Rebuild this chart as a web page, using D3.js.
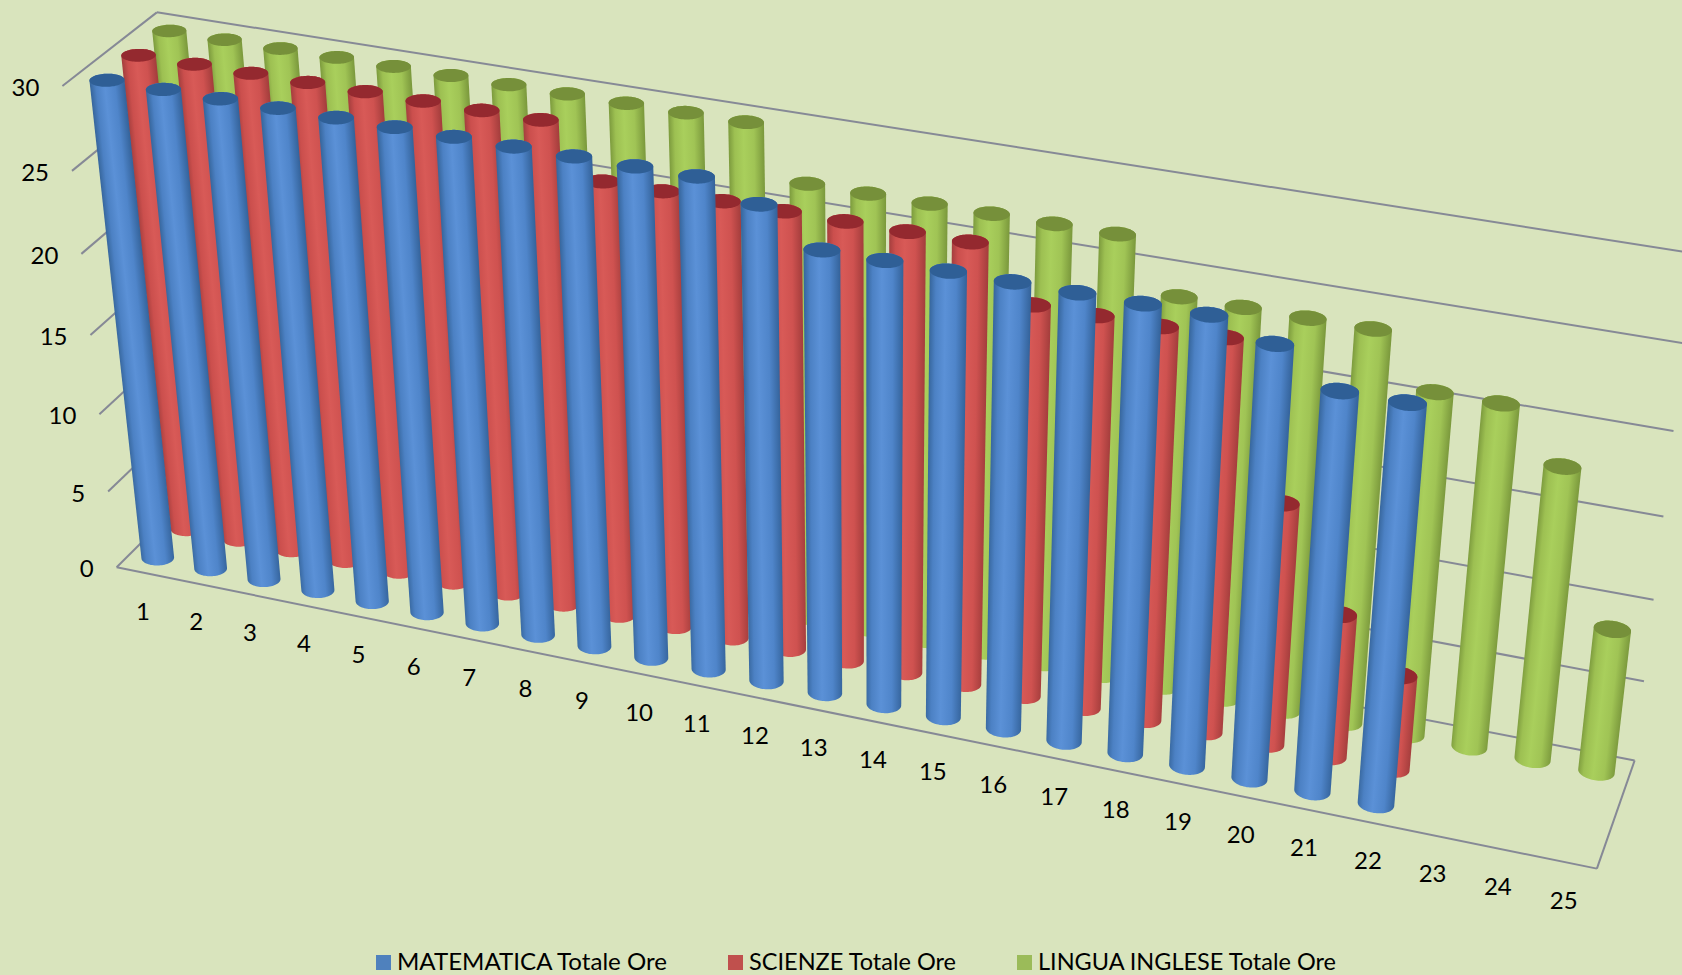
<!DOCTYPE html>
<html>
	<head>
		<title>Totale Ore</title>

		<!--libs-->
		<script src="https://d3js.org/d3.v7.min.js"></script>

		<!--css-->
		<style>
			html, body {
				margin: 0;
				padding: 0;
				background: #d9e4bd;
				overflow: hidden;
			}

			svg {
				display: block;
			}

			text {
				font-family: Lato, "Open Sans", sans-serif;
				font-size: 24px;
				fill: #000;
			}

			.legend text {
				font-size: 23px;
			}

			.grid line {
				stroke: #868996;
				stroke-width: 2;
			}
		</style>
	</head>
	<body>
		<div id="chart"></div>

		<!--js-->
		<script>
			var categories = d3.range(1, 26).map(String);
			var valueTicks = [0, 5, 10, 15, 20, 25, 30];
			var seriesNames = ["MATEMATICA Totale Ore", "SCIENZE Totale Ore", "LINGUA INGLESE Totale Ore"];

			var matematica = [30, 30, 30, 30, 30, 30, 30, 30, 30, 30, 30, 29, 27, 27, 27, 27, 27, 27, 27, 26, 24, 24];
			var scienze = [30, 30, 30, 30, 30, 30, 30, 30, 27, 27, 27, 27, 27, 27, 27, 24, 24, 24, 24, 15, 9, 6];
			var inglese = [30, 30, 30, 30, 30, 30, 30, 30, 30, 30, 30, 27, 27, 27, 27, 27, 27, 24, 24, 24, 24, 21, 21, 18, 9];

			var seriesValues = [matematica, scienze, inglese];
			var bodyColors = [
				["#38689f", "#4c81c4", "#5b91d7", "#4f85ca", "#35649c"],
				["#a8403f", "#cb4f4d", "#d85a57", "#cf5250", "#a53e3d"],
				["#7f9e3f", "#9dc052", "#a9cf5c", "#a0c455", "#7c9a3d"]
			];
			var capColors = ["#2f5f96", "#94292f", "#76903a"];
			var legendColors = ["#4f81bd", "#c0504d", "#9bbb59"];

			var width = 1682, height = 975;

			// the chart box runs 0..1 on each side: u along categories, d in depth, v up
			var uScale = d3.scaleBand().domain(categories).range([0, 1]);
			var dScale = d3.scaleBand().domain(seriesNames).range([0, 1]);
			var vScale = d3.scaleLinear().domain([0, 30]).range([0, 1]);

			// where the box sits on the picture, fitted below to a perspective camera
			var anchors = [
				[0, 0, 0, 117, 568], [1, 0, 0, 1597, 869], [1, 1, 0, 1635, 762],
				[0, 0, 1 / 6, 108, 492], [0, 0, 2 / 6, 99, 414], [0, 0, 3 / 6, 90, 335],
				[0, 0, 4 / 6, 81, 254], [0, 0, 5 / 6, 72, 171], [0, 0, 1, 63, 86],
				[0, 1, 1, 157, 12], [1, 1, 1, 1695, 253],
				[1, 1, 1 / 6, 1644, 682], [1, 1, 2 / 6, 1653, 600], [1, 1, 3 / 6, 1663, 517], [1, 1, 4 / 6, 1673, 431],
				[0.02, 1 / 6, 0, 158, 557], [0.86, 1 / 6, 0, 1376, 803],
				[0.98, 5 / 6, 0, 1597, 771], [0.90, 5 / 6, 0, 1469, 745]
			];

			function solve(A, b) {
				var n = b.length;
				for (var i = 0; i < n; i++) {
					var p = i;
					for (var r = i + 1; r < n; r++) if (Math.abs(A[r][i]) > Math.abs(A[p][i])) p = r;
					var t = A[i]; A[i] = A[p]; A[p] = t;
					t = b[i]; b[i] = b[p]; b[p] = t;
					for (r = i + 1; r < n; r++) {
						var f = A[r][i] / A[i][i];
						for (var c = i; c < n; c++) A[r][c] -= f * A[i][c];
						b[r] -= f * b[i];
					}
				}
				var out = [];
				for (i = n - 1; i >= 0; i--) {
					var s = b[i];
					for (c = i + 1; c < n; c++) s -= A[i][c] * out[c];
					out[i] = s / A[i][i];
				}
				return out;
			}

			function fitCamera() {
				var AtA = d3.range(11).map(function() { return d3.range(11).map(function() { return 0; }); });
				var Atb = d3.range(11).map(function() { return 0; });
				function add(row, y) {
					for (var i = 0; i < 11; i++) {
						Atb[i] += row[i] * y;
						for (var j = 0; j < 11; j++) AtA[i][j] += row[i] * row[j];
					}
				}
				anchors.forEach(function(a) {
					add([1, a[0], a[1], a[2], 0, 0, 0, 0, -a[3] * a[0], -a[3] * a[1], -a[3] * a[2]], a[3]);
					add([0, 0, 0, 0, 1, a[0], a[1], a[2], -a[4] * a[0], -a[4] * a[1], -a[4] * a[2]], a[4]);
				});
				return solve(AtA, Atb);
			}

			var cam = fitCamera();

			function project(u, d, v) {
				var w = 1 + cam[8] * u + cam[9] * d + cam[10] * v;
				return [
					(cam[0] + cam[1] * u + cam[2] * d + cam[3] * v) / w,
					(cam[4] + cam[5] * u + cam[6] * d + cam[7] * v) / w
				];
			}

			var svg = d3.select("#chart")
				.append("svg")
				.attr("width", width)
				.attr("height", height);

			var defs = svg.append("defs");

			// gridlines: left wall then back wall
			var grid = svg.append("g").attr("class", "grid");
			valueTicks.forEach(function(t) {
				var v = vScale(t);
				var pts = [project(0, 0, v), project(0, 1, v), project(1, 1, v)];
				grid.append("line").attr("x1", pts[0][0]).attr("y1", pts[0][1]).attr("x2", pts[1][0]).attr("y2", pts[1][1]);
				grid.append("line").attr("x1", pts[1][0]).attr("y1", pts[1][1]).attr("x2", pts[2][0]).attr("y2", pts[2][1]);
			});
			// floor front and right edges
			[[project(0, 0, 0), project(1, 0, 0)], [project(1, 0, 0), project(1, 1, 0)]].forEach(function(e) {
				grid.append("line").attr("x1", e[0][0]).attr("y1", e[0][1]).attr("x2", e[1][0]).attr("y2", e[1][1]);
			});

			// y labels
			svg.append("g").selectAll("text")
				.data(valueTicks)
				.enter().append("text")
				.attr("text-anchor", "end")
				.attr("x", function(t) { return project(0, 0, vScale(t))[0] - 23; })
				.attr("y", function(t) { return project(0, 0, vScale(t))[1] + 10; })
				.text(function(t) { return t; });

			// category labels
			svg.append("g").selectAll("text")
				.data(categories)
				.enter().append("text")
				.attr("text-anchor", "middle")
				.attr("x", function(c) { return project(uScale(c) + uScale.bandwidth() / 2, 0, 0)[0]; })
				.attr("y", function(c) { return project(uScale(c) + uScale.bandwidth() / 2, 0, 0)[1] + 47; })
				.text(function(c) { return c; });

			// cylinders, back series first
			var radiusU = 0.0112, radiusD = 0.08, topInset = 0.0047;
			var line = d3.line().curve(d3.curveLinearClosed);
			var thetas = d3.range(0, Math.PI * 2, Math.PI / 36);

			function ring(u, d, v) {
				return thetas.map(function(a) {
					return project(u + radiusU * Math.cos(a), d + radiusD * Math.sin(a), v);
				});
			}

			var bars = [];
			d3.range(seriesNames.length - 1, -1, -1).forEach(function(s) {
				seriesValues[s].forEach(function(val, i) {
					bars.push({ s: s, i: i, value: val });
				});
			});

			var stops = [0, 0.16, 0.42, 0.72, 1];

			var cyl = svg.append("g").selectAll("g")
				.data(bars)
				.enter().append("g")
				.each(function(b) {
					var u = uScale(categories[b.i]) + uScale.bandwidth() / 2;
					var d = dScale(seriesNames[b.s]) + dScale.bandwidth() / 2;
					var v = vScale(b.value) - topInset;
					var base = ring(u, d, 0), top = ring(u, d, v), mid = ring(u, d, v / 2);

					var p0 = project(u, d, 0), p1 = project(u, d, v);
					var ax = p1[0] - p0[0], ay = p1[1] - p0[1], len = Math.hypot(ax, ay);
					var nx = -ay / len, ny = ax / len;
					if (nx < 0) { nx = -nx; ny = -ny; }
					var ext = d3.extent(mid, function(p) { return p[0] * nx + p[1] * ny; });
					var c = project(u, d, v / 2);
					var c0 = c[0] * nx + c[1] * ny;

					var id = "cyl-" + b.s + "-" + b.i;
					var grad = defs.append("linearGradient")
						.attr("id", id)
						.attr("gradientUnits", "userSpaceOnUse")
						.attr("x1", c[0] + nx * (ext[0] - c0))
						.attr("y1", c[1] + ny * (ext[0] - c0))
						.attr("x2", c[0] + nx * (ext[1] - c0))
						.attr("y2", c[1] + ny * (ext[1] - c0));
					stops.forEach(function(o, k) {
						grad.append("stop").attr("offset", o).attr("stop-color", bodyColors[b.s][k]);
					});

					d3.select(this).append("path")
						.attr("d", line(d3.polygonHull(base.concat(top))))
						.attr("fill", "url(#" + id + ")");
					d3.select(this).append("path")
						.attr("d", line(top))
						.attr("fill", capColors[b.s]);
				});

			// legend
			var legendSwatchX = [376, 728, 1017];
			var legendTextWidth = [270, 207, 298];
			var legend = svg.append("g").attr("class", "legend").selectAll("g")
				.data(seriesNames)
				.enter().append("g")
				.attr("transform", function(d, i) { return "translate(" + legendSwatchX[i] + ",955)"; });
			legend.append("rect")
				.attr("width", 15)
				.attr("height", 15)
				.attr("fill", function(d, i) { return legendColors[i]; });
			legend.append("text")
				.attr("x", 21)
				.attr("y", 15)
				.attr("textLength", function(d, i) { return legendTextWidth[i]; })
				.attr("lengthAdjust", "spacingAndGlyphs")
				.text(function(d) { return d; });
		</script>
	</body>
</html>
